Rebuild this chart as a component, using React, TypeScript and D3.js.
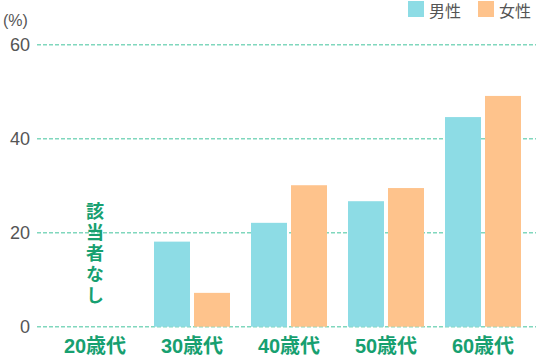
import React, { useEffect, useRef } from 'react';
import * as d3 from 'd3';

const WIDTH = 536;
const HEIGHT = 364;

const ages = ['20歳代', '30歳代', '40歳代', '50歳代', '60歳代'];
const seriesNames = ['男性', '女性'];
const seriesColors = ['#8ddce5', '#fec38c'];
const male = [null, 18.1, 22.1, 26.7, 44.6];
const female = [null, 7.2, 30.1, 29.5, 49.1];
const yTicks = [0, 20, 40, 60];
const noDataLabel = '該当者なし';

const FONT = '"Liberation Sans", "Noto Sans CJK JP", sans-serif';

export default function App() {
  const ref = useRef<SVGSVGElement>(null);

  useEffect(() => {
    const svg = d3.select(ref.current);
    svg.selectAll('*').remove();

    const x = d3.scaleBand().domain(ages).range([46.5, 531.5]);
    const inner = d3.scaleBand().domain(seriesNames).range([x.bandwidth() / 2 - 38, x.bandwidth() / 2 + 38]).paddingInner(0.1);
    const y = d3.scaleLinear().domain([0, 60]).range([326.7, 44.7]);

    // gridlines
    svg.append('g')
      .selectAll('line')
      .data(yTicks)
      .enter()
      .append('line')
      .attr('x1', 37)
      .attr('x2', WIDTH)
      .attr('y1', (d) => y(d))
      .attr('y2', (d) => y(d))
      .attr('stroke', '#80d7bd')
      .attr('stroke-width', 1.5)
      .attr('stroke-dasharray', '4,2');

    // y labels
    svg.append('g')
      .selectAll('text')
      .data(yTicks)
      .enter()
      .append('text')
      .attr('x', 30)
      .attr('y', (d) => y(d) + 6.5)
      .attr('text-anchor', 'end')
      .attr('font-family', FONT)
      .attr('font-size', 18)
      .attr('fill', '#555')
      .text((d) => d);

    svg.append('text')
      .attr('x', 3)
      .attr('y', 26)
      .attr('font-family', FONT)
      .attr('font-size', 16)
      .attr('fill', '#555')
      .text('(%)');

    // bars
    const values = [male, female];
    seriesNames.forEach((name, si) => {
      svg.append('g')
        .selectAll('rect')
        .data(ages.map((a, i) => ({ a, v: values[si][i] })).filter((d) => d.v != null))
        .enter()
        .append('rect')
        .attr('x', (d) => (x(d.a) as number) + (inner(name) as number))
        .attr('width', inner.bandwidth())
        .attr('y', (d) => y(d.v as number))
        .attr('height', (d) => y(0) - y(d.v as number))
        .attr('fill', seriesColors[si]);
    });

    // x labels
    svg.append('g')
      .selectAll('text')
      .data(ages)
      .enter()
      .append('text')
      .attr('x', (d) => (x(d) as number) + x.bandwidth() / 2)
      .attr('y', 353)
      .attr('text-anchor', 'middle')
      .attr('font-family', FONT)
      .attr('font-weight', 'bold')
      .attr('font-size', 20)
      .attr('fill', '#17a070')
      .text((d) => d);

    // no data label (vertical)
    const cx = (x(ages[0]) as number) + x.bandwidth() / 2;
    svg.append('text')
      .attr('x', cx)
      .attr('y', 202)
      .attr('font-family', '"Noto Sans CJK JP", sans-serif')
      .attr('font-weight', 'bold')
      .attr('font-size', 18)
      .attr('letter-spacing', 3)
      .attr('fill', '#17a070')
      .style('writing-mode', 'vertical-rl')
      .style('text-orientation', 'upright')
      .text(noDataLabel);

    // legend
    const legendX = [408, 478];
    seriesNames.forEach((name, i) => {
      svg.append('rect')
        .attr('x', legendX[i])
        .attr('y', 1)
        .attr('width', 16)
        .attr('height', 16)
        .attr('fill', seriesColors[i]);
      svg.append('text')
        .attr('x', legendX[i] + 21)
        .attr('y', 17)
        .attr('font-family', FONT)
        .attr('font-size', 16)
        .attr('fill', '#555')
        .text(name);
    });
  }, []);

  return (
    <svg
      ref={ref}
      width={WIDTH}
      height={HEIGHT}
      style={{ position: 'absolute', left: 0, top: 0, background: '#fff' }}
    ></svg>
  );
}
